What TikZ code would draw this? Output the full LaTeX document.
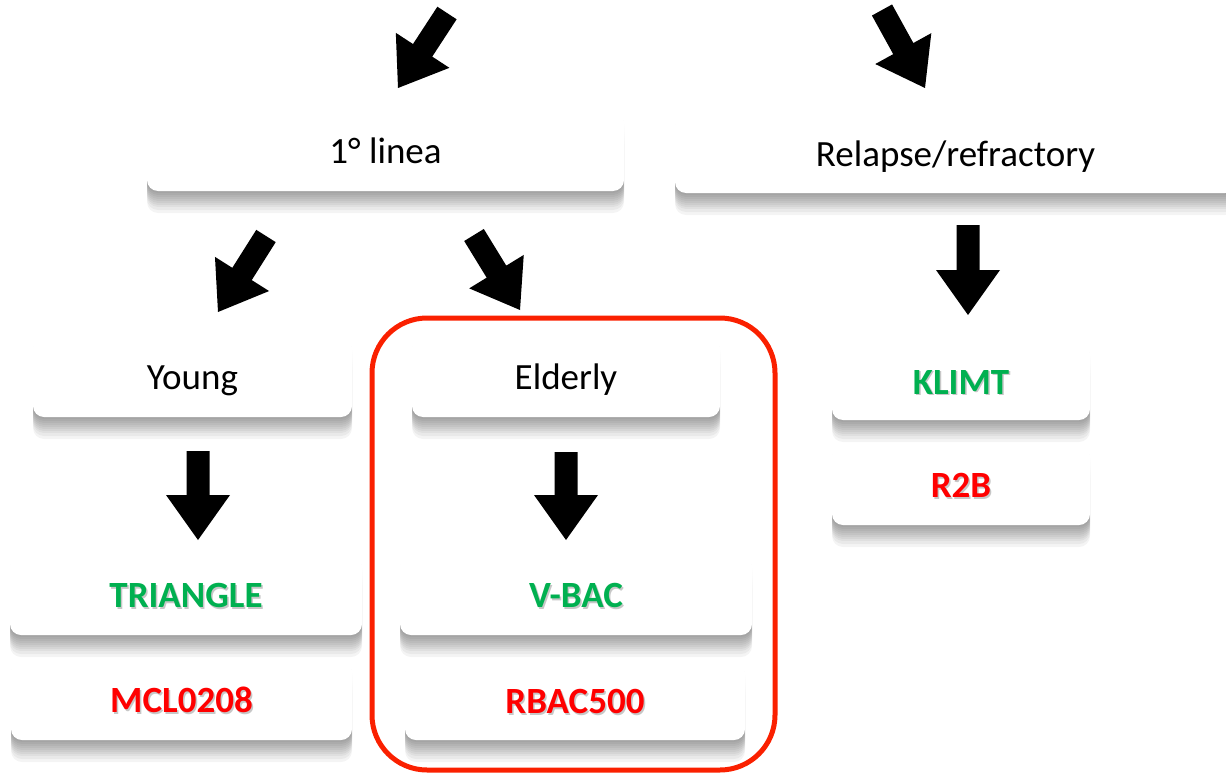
\documentclass[tikz,border=0pt]{standalone}
\usepackage{fontspec}
\setmainfont{Carlito}
\usepackage{xcolor}
\usetikzlibrary{calc,shadows}

\definecolor{okgreen}{RGB}{0,176,80}
\definecolor{nored}{RGB}{255,0,0}
\definecolor{framered}{RGB}{250,32,0}

\tikzset{
  softshade/.style={drop shadow={shadow xshift=0pt, shadow yshift=-#1pt, opacity=0.045, fill=black}},
  panel/.style={fill=white, rounded corners=11pt, inner sep=0pt,
    text height=32pt, text depth=7pt,
    font=\fontsize{37}{40}\selectfont,
    softshade=2, softshade=4, softshade=6, softshade=8, softshade=10,
    softshade=12, softshade=14, softshade=16, softshade=19, softshade=22},
  trial/.style={panel, font=\fontsize{37}{40}\selectfont\bfseries},
}

% text with a faint grey copy behind it
\newcommand{\shtext}[2]{\leavevmode\rlap{\hspace{1.5pt}\raisebox{-1.5pt}{\color{black!22}#2}}{\color{#1}#2}}

% block arrow: tail, tip
\newcommand{\bigarrow}[2]{%
  \fill (#2) -- ($(#2)!45pt!(#1)!32pt!90:(#2)$)
    -- ($(#2)!45pt!(#1)!11.5pt!90:(#2)$)
    -- ($(#1)!11.5pt!90:(#2)$)
    -- ($(#1)!11.5pt!-90:(#2)$)
    -- ($(#2)!45pt!(#1)!11.5pt!-90:(#2)$)
    -- ($(#2)!45pt!(#1)!32pt!-90:(#2)$) -- cycle;}

\begin{document}
\begin{tikzpicture}[x=1pt,y=-1pt]
  \useasboundingbox (0,0) rectangle (1226,773);

  \draw[framered,line width=5pt,rounded corners=55pt] (372,318) rectangle (775,770);

  \node[panel,minimum width=477pt,minimum height=80pt] (linea) at (385.5,151) {1° linea};
  \node[panel,minimum width=561pt,minimum height=78pt] (relapse) at (955.5,154) {Relapse/refractory};

  \node[panel,minimum width=319pt,minimum height=80pt] (young) at (192.5,377) {Young};
  \node[panel,minimum width=308pt,minimum height=80pt] (elderly) at (566,377) {Elderly};

  \node[trial,minimum width=352pt,minimum height=80pt] (triangle) at (186,595) {\shtext{okgreen}{TRIANGLE}};
  \node[trial,minimum width=341pt,minimum height=80pt] (mcl) at (181.5,700) {\shtext{nored}{MCL0208}};
  \node[trial,minimum width=352pt,minimum height=80pt] (vbac) at (576,595) {\shtext{okgreen}{V-BAC}};
  \node[trial,minimum width=340pt,minimum height=78pt] (rbac) at (575,701) {\shtext{nored}{RBAC500}};
  \node[trial,minimum width=258pt,minimum height=77pt] (klimt) at (961,381.5) {\shtext{okgreen}{KLIMT}};
  \node[trial,minimum width=258pt,minimum height=80pt] (rtwob) at (961,485) {\shtext{nored}{R2B}};

  \coordinate (t1) at (447,13);  \coordinate (p1) at (398,88);
  \coordinate (t2) at (882,10);  \coordinate (p2) at (925,88);
  \coordinate (t3) at (266,236); \coordinate (p3) at (218,312);
  \coordinate (t4) at (474,235); \coordinate (p4) at (520,310);
  \coordinate (t5) at (968,225); \coordinate (p5) at (968,315);
  \coordinate (t6) at (198,451); \coordinate (p6) at (198,540);
  \coordinate (t7) at (566,452); \coordinate (p7) at (566,540);

  \foreach \i in {1,...,7}
    \bigarrow{t\i}{p\i};
\end{tikzpicture}
\end{document}
